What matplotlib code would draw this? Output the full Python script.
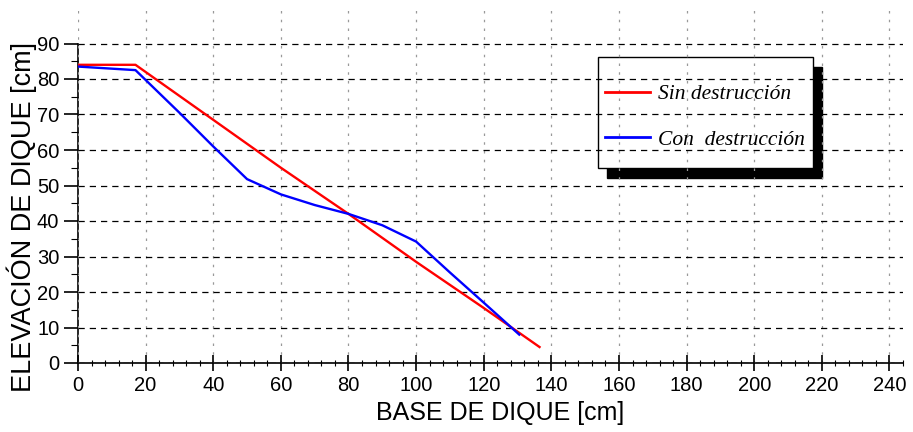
import matplotlib
matplotlib.use('Agg')
import matplotlib.pyplot as plt
from matplotlib.patches import Rectangle
from matplotlib.ticker import MultipleLocator

# readings
base_sin = [0, 17, 40, 60, 80, 100, 120, 136.5]
elev_sin = [84, 84, 68.5, 55, 42, 28.5, 15.5, 4.5]

base_con = [0, 17, 30, 40, 50, 60, 70, 80, 90, 100, 110, 120, 130.5]
elev_con = [83.5, 82.5, 70.5, 61, 51.8, 47.5, 44.5, 42, 38.8, 34.2, 25.5, 17, 8]

labels = ['Sin destrucción', 'Con  destrucción']
colors = ['#ff0000', '#0000ff']

W, H = 913, 432
fig = plt.figure(figsize=(W / 100, H / 100), dpi=100)
# axes: x=0 at px 78, y=0 at px 363 (from top)
ax = fig.add_axes([78 / W, (H - 363) / H, 825 / W, 355 / H])

ax.plot(base_sin, elev_sin, color=colors[0], lw=1.7, label=labels[0], zorder=3)
ax.plot(base_con, elev_con, color=colors[1], lw=1.7, label=labels[1], zorder=3)

ax.set_xlim(0, 244)
ax.set_ylim(0, 100)
ax.xaxis.set_major_locator(MultipleLocator(20))
ax.xaxis.set_minor_locator(MultipleLocator(4))
ax.set_yticks(range(0, 91, 10))
ax.set_yticks(range(5, 90, 10), minor=True)

for s in ['top', 'right']:
    ax.spines[s].set_visible(False)
ax.spines['left'].set_bounds(0, 90)
ax.spines['left'].set_linewidth(1.2)
ax.spines['bottom'].set_linewidth(1.2)

ax.tick_params(axis='x', which='major', direction='inout', length=12, width=1.2)
ax.tick_params(axis='x', which='minor', direction='inout', length=5, width=0.8)
ax.tick_params(axis='y', which='major', direction='out', length=10, width=1.2)
ax.tick_params(axis='y', which='minor', direction='out', length=5, width=0.8)

for lab in ax.get_xticklabels() + ax.get_yticklabels():
    lab.set_fontfamily('Liberation Sans')
    lab.set_fontsize(14.5)

ax.set_axisbelow(False)
ax.grid(axis='x', which='major', color='#999999', linestyle=(0, (2, 5)), lw=0.9)
ax.grid(axis='y', which='major', color='black', linestyle=(0, (5, 4)), lw=0.9)

ax.set_xlabel('BASE DE DIQUE [cm]', fontfamily='Liberation Sans', fontsize=18)
ax.set_ylabel('ELEVACIÓN DE DIQUE [cm]', fontfamily='Liberation Sans', fontsize=19.5)
# label centres: x label at px (500, 413), y label at px (22, 217)
ax.xaxis.label.set_va('center')
ax.yaxis.label.set_va('center')
ax.xaxis.set_label_coords((500 - 78) / 825, (363 - 413) / 355)
ax.yaxis.set_label_coords((22 - 78) / 825, (363 - 217) / 355)

# legend box with black drop shadow, grid shows through
box_l, box_t, box_r, box_b = 598, 57, 813, 168
to_fig = lambda x, y: (x / W, (H - y) / H)
x0, y0 = to_fig(box_l, box_b)
bw, bh = (box_r - box_l) / W, (box_b - box_t) / H
shadow = Rectangle((x0 + 9 / W, y0 - 10 / H), bw, bh, transform=fig.transFigure,
                   facecolor='black', edgecolor='black', zorder=1, clip_on=False)
frame = Rectangle((x0, y0), bw, bh, transform=fig.transFigure,
                  facecolor='white', edgecolor='black', lw=1.0, zorder=1.5, clip_on=False)
ax.add_patch(shadow)
ax.add_patch(frame)

leg = ax.legend(loc='upper left', bbox_to_anchor=to_fig(box_l + 7, box_t + 27),
                bbox_transform=fig.transFigure, frameon=False, borderaxespad=0,
                borderpad=0, handlelength=2.1, handletextpad=0.37, labelspacing=1.18,
                prop=dict(family='Liberation Serif', style='italic', size=15.5))
leg.set_zorder(4)
for line in leg.get_lines():
    line.set_linewidth(2)

fig.savefig('out.png', dpi=100)
